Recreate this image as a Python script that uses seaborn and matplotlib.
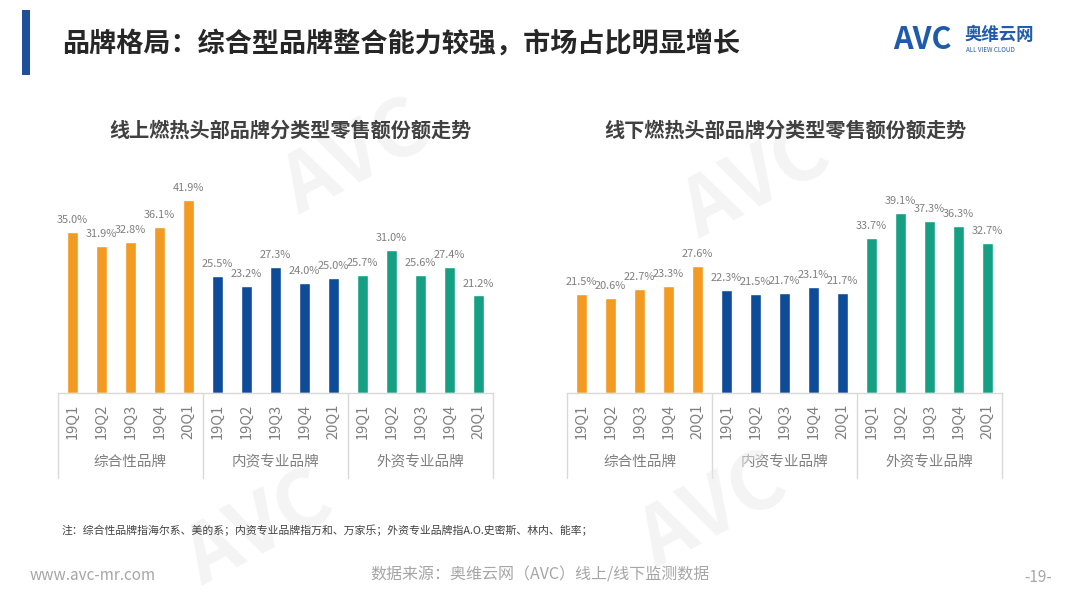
import matplotlib
matplotlib.use("Agg")
import matplotlib.pyplot as plt
import matplotlib.transforms as mtransforms
import seaborn as sns
import pandas as pd

# ---------------- data ----------------
groups = ["综合性品牌", "内资专业品牌", "外资专业品牌"]
quarters = ["19Q1", "19Q2", "19Q3", "19Q4", "20Q1"]

online_comprehensive = [35.0, 31.9, 32.8, 36.1, 41.9]
online_domestic = [25.5, 23.2, 27.3, 24.0, 25.0]
online_foreign = [25.7, 31.0, 25.6, 27.4, 21.2]

offline_comprehensive = [21.5, 20.6, 22.7, 23.3, 27.6]
offline_domestic = [22.3, 21.5, 21.7, 23.1, 21.7]
offline_foreign = [33.7, 39.1, 37.3, 36.3, 32.7]

main_title = "品牌格局：综合型品牌整合能力较强，市场占比明显增长"
online_title = "线上燃热头部品牌分类型零售额份额走势"
offline_title = "线下燃热头部品牌分类型零售额份额走势"
footnote = "注：综合性品牌指海尔系、美的系；内资专业品牌指万和、万家乐；外资专业品牌指A.O.史密斯、林内、能率；"
source = "数据来源：奥维云网（AVC）线上/线下监测数据"
website = "www.avc-mr.com"
page_no = "-19-"

colors = {"综合性品牌": "#F29A22", "内资专业品牌": "#0E4C9A", "外资专业品牌": "#15A083"}

# ---------------- style ----------------
sns.set_theme(style="white")
plt.rcParams["font.family"] = ["Noto Sans CJK SC", "DejaVu Sans"]

fig = plt.figure(figsize=(10.8, 6.08), dpi=100)
fig.patch.set_facecolor("white")

W, H = 1080.0, 608.0


def make_df(vals_list):
    rows = []
    for g, vals in zip(groups, vals_list):
        for q, v in zip(quarters, vals):
            rows.append({"key": f"{g}|{q}", "quarter": q, "group": g, "value": v})
    return pd.DataFrame(rows)


def draw_panel(left_px, vals_list, title, title_cx):
    df = make_df(vals_list)
    width_px = 435.0
    base_px = 393.0
    ymax = 45.0
    height_px = ymax * 4.6
    ax = fig.add_axes([left_px / W, 1 - base_px / H, width_px / W, height_px / H])
    sns.barplot(data=df, x="key", y="value", hue="group", order=list(df["key"]),
                hue_order=groups, palette=colors, dodge=False, width=0.35,
                ax=ax, legend=False, saturation=1)
    ax.set_xlim(-0.5, len(df) - 0.5)
    ax.set_ylim(0, ymax)
    ax.set_xlabel("")
    ax.set_ylabel("")
    ax.set_yticks([])
    ax.set_facecolor("none")
    for s in ["top", "right", "left"]:
        ax.spines[s].set_visible(False)
    ax.spines["bottom"].set_color("#d9d9d9")
    ax.spines["bottom"].set_linewidth(1.0)
    ax.set_xticks(range(len(df)))
    ax.set_xticklabels(df["quarter"], rotation=90, fontsize=10.5, color="#7f7f7f")
    ax.tick_params(axis="x", length=0, pad=8)

    # value labels
    for container in ax.containers:
        ax.bar_label(container, labels=[f"{b.get_height():.1f}%" for b in container],
                     padding=5, fontsize=7.9, color="#7f7f7f")

    # group separators and group labels
    trans = mtransforms.blended_transform_factory(ax.transData, ax.transAxes)
    for xs in [-0.5, 4.5, 9.5, 14.5]:
        ax.plot([xs, xs], [0, -0.41], transform=trans, color="#d9d9d9", lw=1.0, clip_on=False)
    for i, g in enumerate(groups):
        ax.text(i * 5 + 2, -0.335, g, transform=trans, ha="center", va="center",
                fontsize=10.5, color="#7f7f7f")

    fig.text(title_cx / W, 1 - 130 / H, title, ha="center", va="center",
             fontsize=14.5, fontweight="bold", color="#404040")
    return ax


draw_panel(58, [online_comprehensive, online_domestic, online_foreign], online_title, 290)
draw_panel(567, [offline_comprehensive, offline_domestic, offline_foreign], offline_title, 785)

# ---------------- header ----------------
bar_ax = fig.add_axes([22 / W, 1 - 75 / H, 8 / W, 65 / H])
bar_ax.set_facecolor("#1F4E9A")
bar_ax.set_xticks([]); bar_ax.set_yticks([])
for s in bar_ax.spines.values():
    s.set_visible(False)

fig.text(62 / W, 1 - 44 / H, main_title, ha="left", va="center",
         fontsize=19.5, fontweight="bold", color="#262626")

# logo
fig.text(893 / W, 1 - 40 / H, "AVC", ha="left", va="center", fontsize=22,
         fontweight="bold", color="#1F5BAA", style="italic")
fig.text(965 / W, 1 - 35 / H, "奥维云网", ha="left", va="center", fontsize=12.5,
         fontweight="bold", color="#1F5BAA")
fig.text(966 / W, 1 - 50 / H, "ALL VIEW CLOUD", ha="left", va="center", fontsize=4.5,
         color="#1F5BAA")

# watermarks
for (x, y) in [(0.33, 0.74), (0.70, 0.70), (0.24, 0.13), (0.66, 0.16)]:
    fig.text(x, y, "AVC", ha="center", va="center", fontsize=58, fontweight="bold",
             color="#e9e9e9", rotation=28, alpha=0.5, zorder=0)

# ---------------- footer ----------------
fig.text(62 / W, 1 - 530 / H, footnote, ha="left", va="center", fontsize=7.8, color="#404040")
fig.text(30 / W, 1 - 575 / H, website, ha="left", va="center", fontsize=11, color="#a6a6a6")
fig.text(540 / W, 1 - 575 / H, source, ha="center", va="center", fontsize=11.5, color="#a6a6a6")
fig.text(1052 / W, 1 - 577 / H, page_no, ha="right", va="center", fontsize=11, color="#a6a6a6")

fig.savefig("out.png", dpi=100, facecolor="white")
